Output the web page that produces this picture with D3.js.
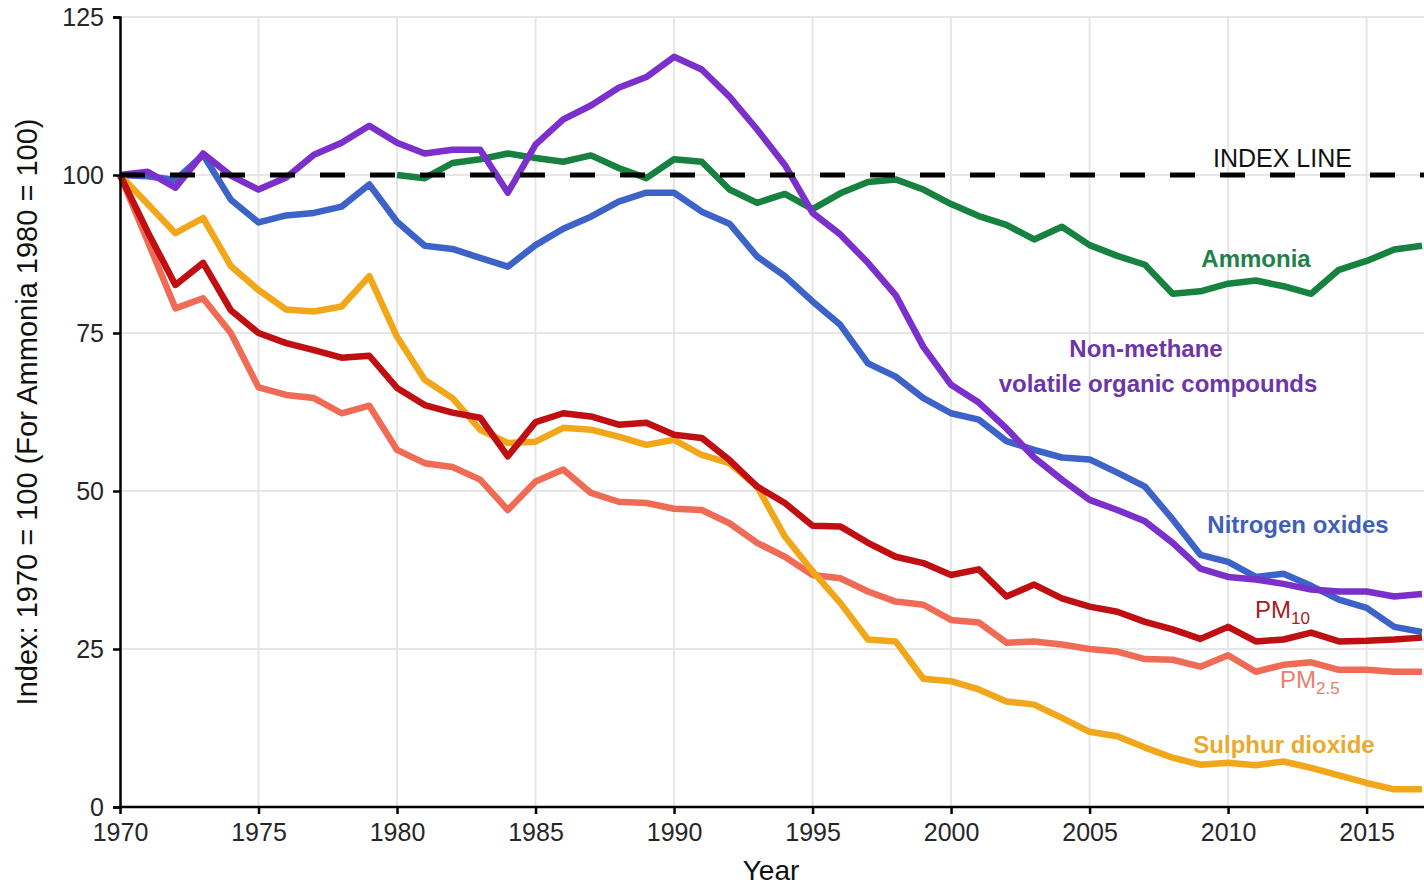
<!DOCTYPE html>
<html>
<head>
<meta charset="utf-8">
<script src="https://cdn.jsdelivr.net/npm/d3@7"></script>
<style>
  body { margin: 0; background: #fff; }
  text { font-family: "Liberation Sans", Arial, sans-serif; }
  .grid line { stroke: #e6e6e6; stroke-width: 2; }
  .axis path, .axis line { stroke: #000; stroke-width: 2.5; }
  .axis text { fill: #262626; font-size: 25px; }
</style>
</head>
<body>
<div id="chart"></div>
<script>
/*------------------------------
 DATA
 ----------------------------*/
const YEARS = [1970, 1971, 1972, 1973, 1974, 1975, 1976, 1977, 1978, 1979,
               1980, 1981, 1982, 1983, 1984, 1985, 1986, 1987, 1988, 1989,
               1990, 1991, 1992, 1993, 1994, 1995, 1996, 1997, 1998, 1999,
               2000, 2001, 2002, 2003, 2004, 2005, 2006, 2007, 2008, 2009,
               2010, 2011, 2012, 2013, 2014, 2015, 2016, 2017];
const AMMONIA_YEARS = YEARS.filter(y => y >= 1980);

const NMVOC = [100, 100.5, 98.0, 103.4, 99.9, 97.7, 99.6, 103.2, 105.1, 107.8,
               105.1, 103.4, 104.0, 104.0, 97.2, 104.8, 108.8, 111.0, 113.8, 115.5,
               118.7, 116.7, 112.4, 107.2, 101.6, 94.0, 90.6, 86.1, 81.0, 72.8,
               66.8, 64.0, 59.9, 55.3, 51.8, 48.6, 47.0, 45.2, 41.8, 37.7,
               36.4, 36.0, 35.3, 34.4, 34.1, 34.1, 33.3, 33.7];
const NOX = [100, 99.8, 99.2, 103.2, 96.1, 92.5, 93.6, 94.0, 95.0, 98.5,
             92.6, 88.8, 88.3, 86.9, 85.5, 88.9, 91.5, 93.4, 95.8, 97.2,
             97.2, 94.2, 92.3, 87.1, 84.0, 80.0, 76.3, 70.2, 68.1, 64.7,
             62.3, 61.3, 57.9, 56.5, 55.3, 55.0, 52.9, 50.7, 45.5, 39.9,
             38.8, 36.4, 36.9, 35.0, 32.8, 31.5, 28.5, 27.7];
const AMMONIA = [100, 99.5, 101.9, 102.5, 103.4, 102.7, 102.1, 103.1, 101.1, 99.5,
                 102.5, 102.1, 97.7, 95.6, 97.0, 94.6, 97.1, 98.9, 99.3, 97.7,
                 95.4, 93.5, 92.1, 89.8, 91.8, 88.9, 87.2, 85.8, 81.2, 81.6,
                 82.8, 83.3, 82.4, 81.2, 85.0, 86.4, 88.2, 88.8];
const SO2 = [100, 95.4, 90.8, 93.2, 85.6, 81.8, 78.7, 78.4, 79.2, 84.0,
             74.4, 67.6, 64.7, 59.7, 57.6, 57.8, 60.0, 59.7, 58.6, 57.3,
             58.1, 55.7, 54.4, 50.7, 42.8, 37.3, 32.3, 26.5, 26.2, 20.3,
             19.9, 18.6, 16.7, 16.2, 14.1, 11.9, 11.2, 9.4, 7.8, 6.7,
             7.0, 6.6, 7.2, 6.2, 5.0, 3.8, 2.8, 2.8];
const PM10 = [100, 91.0, 82.6, 86.1, 78.6, 75.0, 73.4, 72.3, 71.1, 71.4,
              66.3, 63.6, 62.4, 61.6, 55.5, 60.9, 62.3, 61.8, 60.5, 60.8,
              58.9, 58.4, 54.9, 50.7, 48.1, 44.5, 44.4, 41.8, 39.6, 38.6,
              36.7, 37.6, 33.3, 35.2, 33.0, 31.7, 30.9, 29.3, 28.1, 26.6,
              28.5, 26.2, 26.5, 27.6, 26.2, 26.3, 26.5, 26.8];
const PM25 = [100, 89.5, 78.9, 80.5, 75.0, 66.4, 65.2, 64.7, 62.3, 63.5,
              56.5, 54.4, 53.8, 51.8, 47.0, 51.5, 53.4, 49.7, 48.3, 48.1,
              47.2, 47.0, 44.9, 41.8, 39.6, 36.7, 36.2, 34.1, 32.5, 32.0,
              29.6, 29.2, 26.0, 26.2, 25.7, 25.0, 24.6, 23.4, 23.3, 22.2,
              24.0, 21.4, 22.5, 22.9, 21.7, 21.7, 21.4, 21.4];

const X_TICKS = [1970, 1975, 1980, 1985, 1990, 1995, 2000, 2005, 2010, 2015];
const Y_TICKS = [0, 25, 50, 75, 100, 125];
const INDEX_VALUE = 100;

/*------------------------------
 GLOBAL CONSTANTS
 ----------------------------*/
const SVG_WIDTH = 1424;
const SVG_HEIGHT = 886;
const X0 = 120, X1 = 1422, Y0 = 807, Y1 = 17;

// drawn bottom to top
const SERIES = [
  {id: "ammonia", years: AMMONIA_YEARS, values: AMMONIA, color: "#17813f"},
  {id: "nox", years: YEARS, values: NOX, color: "#3d63c9"},
  {id: "nmvoc", years: YEARS, values: NMVOC, color: "#7b2fcb"},
  {id: "pm25", years: YEARS, values: PM25, color: "#f06b56"},
  {id: "so2", years: YEARS, values: SO2, color: "#f2a71b"},
  {id: "pm10", years: YEARS, values: PM10, color: "#c00f12"}
];

const LABELS = [
  {text: "Ammonia", x: 1256, y: 267, color: "#22804a", bold: true},
  {text: "Non-methane", x: 1146, y: 357, color: "#6c36a8", bold: true},
  {text: "volatile organic compounds", x: 1158, y: 392, color: "#6c36a8", bold: true},
  {text: "Nitrogen oxides", x: 1298, y: 533, color: "#3f5fb8", bold: true},
  {text: "Sulphur dioxide", x: 1284, y: 753, color: "#e8aa30", bold: true}
];

/*------------------------------
 CHART
 ----------------------------*/
const svg = d3.select("#chart").append("svg")
  .attr("width", SVG_WIDTH).attr("height", SVG_HEIGHT);

const x = d3.scaleLinear().domain([1970, 2017]).range([X0, X1]);
const y = d3.scaleLinear().domain([0, 125]).range([Y0, Y1]);

// gridlines
const grid = svg.append("g").attr("class", "grid");
grid.selectAll("line.v").data(X_TICKS.slice(1)).enter().append("line")
  .attr("x1", d => x(d)).attr("x2", d => x(d)).attr("y1", Y0).attr("y2", Y1);
grid.selectAll("line.h").data(Y_TICKS.slice(1)).enter().append("line")
  .attr("x1", X0).attr("x2", SVG_WIDTH).attr("y1", d => y(d)).attr("y2", d => y(d));

// series lines
const line = d3.line().x(d => x(d[0])).y(d => y(d[1]));
SERIES.forEach(s => {
  svg.append("path")
    .datum(s.years.map((yr, i) => [yr, s.values[i]]))
    .attr("d", line)
    .attr("fill", "none")
    .attr("stroke", s.color)
    .attr("stroke-width", 6.5)
    .attr("stroke-linejoin", "round");
});

// index line
svg.append("line")
  .attr("x1", x(1970)).attr("x2", SVG_WIDTH)
  .attr("y1", y(INDEX_VALUE)).attr("y2", y(INDEX_VALUE))
  .attr("stroke", "#000").attr("stroke-width", 5)
  .attr("stroke-dasharray", "25,25");

// axes
const xAxis = svg.append("g").attr("class", "axis")
  .attr("transform", `translate(0, ${Y0})`)
  .call(d3.axisBottom(x).tickValues(X_TICKS).tickFormat(d3.format("d")).tickSizeOuter(0).tickSize(7).tickPadding(9));
xAxis.select(".domain").attr("d", `M${X0},0H${SVG_WIDTH}`);

const yAxis = svg.append("g").attr("class", "axis")
  .attr("transform", `translate(${X0}, 0)`)
  .call(d3.axisLeft(y).tickValues(Y_TICKS).tickSizeOuter(0).tickSize(7).tickPadding(9));

// axis titles
svg.append("text")
  .attr("x", (X0 + X1) / 2).attr("y", 880)
  .attr("text-anchor", "middle")
  .attr("font-size", 28).attr("fill", "#111")
  .text("Year");

svg.append("text")
  .attr("transform", `translate(37, ${(Y0 + Y1) / 2}) rotate(-90)`)
  .attr("text-anchor", "middle")
  .attr("font-size", 29).attr("fill", "#111")
  .text("Index: 1970 = 100 (For Ammonia 1980 = 100)");

// series labels
LABELS.forEach(l => {
  svg.append("text")
    .attr("x", l.x).attr("y", l.y)
    .attr("text-anchor", "middle")
    .attr("font-size", 24)
    .attr("font-weight", l.bold ? "bold" : "normal")
    .attr("fill", l.color)
    .text(l.text);
});

svg.append("text")
  .attr("x", 1213).attr("y", 167)
  .attr("font-size", 25).attr("fill", "#111")
  .text("INDEX LINE");

// PM labels with subscripts
function pmLabel(xPos, yPos, sub, color) {
  let t = svg.append("text")
    .attr("x", xPos).attr("y", yPos)
    .attr("font-size", 24).attr("fill", color);
  t.append("tspan").text("PM");
  t.append("tspan").attr("dy", 6).attr("font-size", 17).text(sub);
}
pmLabel(1255, 618, "10", "#a81b20");
pmLabel(1280, 688, "2.5", "#e6806f");
</script>
</body>
</html>
